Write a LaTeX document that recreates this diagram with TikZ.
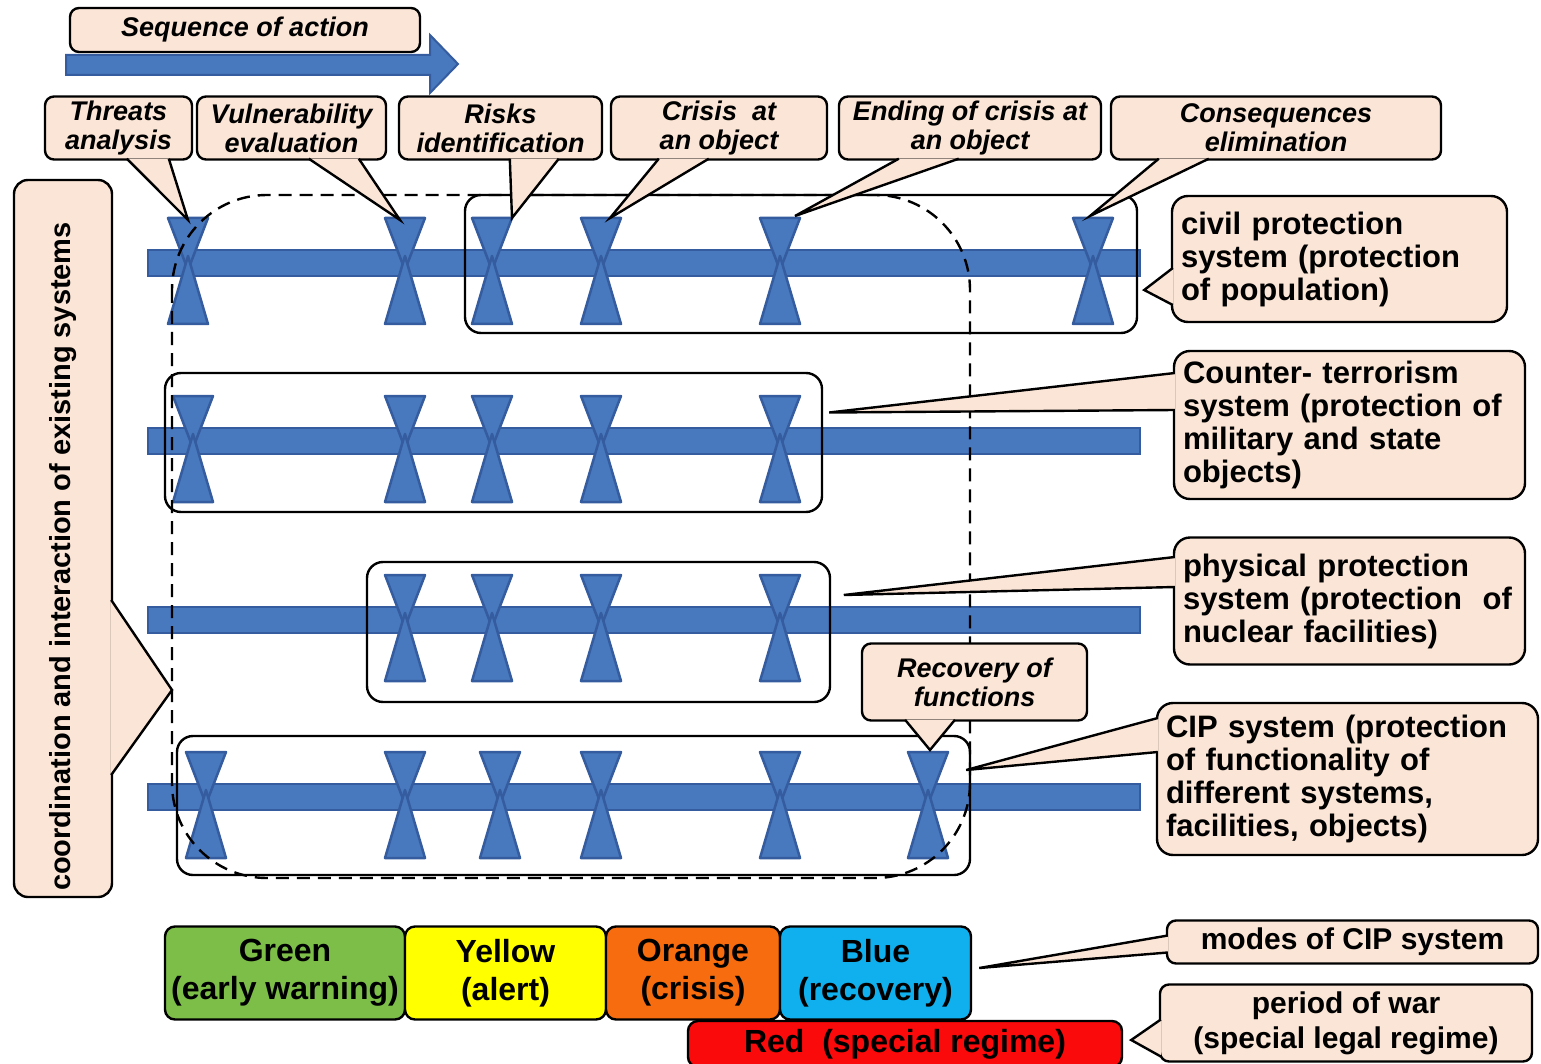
\documentclass[tikz,border=0pt]{standalone}
\usepackage{fontspec}
\setmainfont{Liberation Sans}
\usetikzlibrary{positioning,calc}

\definecolor{peach}{RGB}{251,229,214}
\definecolor{barblue}{RGB}{72,120,190}
\definecolor{baredge}{RGB}{52,92,158}
\definecolor{modegreen}{RGB}{124,190,72}
\definecolor{modeyellow}{RGB}{255,255,0}
\definecolor{modeorange}{RGB}{246,108,14}
\definecolor{modeblue}{RGB}{16,176,238}
\definecolor{modered}{RGB}{250,10,10}

\tikzset{
  glassfill/.style={fill=barblue, draw=baredge, line width=2.5pt, line join=round},
  glass/.pic={
    \filldraw[glassfill] (-20,-45) -- (20,-45) -- (0,7) -- cycle;
    \filldraw[glassfill] (-20,61) -- (20,61) -- (0,-7) -- cycle;
  }
}

\begin{document}
\begin{tikzpicture}[x=1pt,y=-1pt,
    actbox/.style={draw, line width=2.4pt, rounded corners=9pt, fill=peach, inner sep=0pt,
      align=center, font=\fontsize{27}{29}\selectfont\bfseries\itshape},
    sysbox/.style={draw, line width=2.4pt, rounded corners=16pt, fill=peach, inner ysep=0pt,
      inner xsep=9pt, align=left, font=\fontsize{31}{33}\selectfont\bfseries},
    grp/.style={draw, line width=2.4pt, rounded corners=16pt, inner sep=0pt},
    zone/.style={draw, line width=2.4pt, dash pattern=on 13pt off 8pt, rounded corners=95pt},
    ptr/.style={fill=peach, draw, line width=2.4pt, line join=miter},
    bar/.style={fill=barblue, draw=baredge, line width=2pt},
    mode/.style={draw, line width=2.4pt, rounded corners=10pt, inner sep=0pt, align=center,
      font=\fontsize{32}{38}\selectfont\bfseries},
    note/.style={draw, line width=2.4pt, rounded corners=9pt, fill=peach, inner sep=0pt,
      align=center, font=\fontsize{30}{35}\selectfont\bfseries}]

  \useasboundingbox (0,0) rectangle (1541,1064);

  % sequence arrow
  \filldraw[bar] (66,55) -- (430,55) -- (430,35) -- (458,64) -- (430,93) -- (430,75) -- (66,75) -- cycle;
  \node[actbox, minimum width=350, minimum height=44] (seq) at (245,30) {Sequence of action};

  % time lines
  \foreach \y in {263,441,620,797}
    \filldraw[bar] (148,\y-13) rectangle (1140,\y+13);

  \foreach \x in {188,405,492,601,780,1093}
    \pic at (\x,263) {glass};
  \foreach \x in {193,405,492,601,780}
    \pic at (\x,441) {glass};
  \foreach \x in {405,492,601,780}
    \pic at (\x,620) {glass};
  \foreach \x in {206,405,500,601,780,928}
    \pic at (\x,797) {glass};

  % systems
  \node[grp, minimum width=672, minimum height=138] (civgrp) at (801,264) {};
  \node[grp, minimum width=657, minimum height=139] (ctrgrp) at (493.5,442.5) {};
  \node[grp, minimum width=463, minimum height=140] (phygrp) at (598.5,632) {};
  \node[grp, minimum width=793, minimum height=139] (cipgrp) at (573.5,805.5) {};
  \draw[zone] (172,195) rectangle (970,878);

  % steps
  \node[actbox, minimum width=147, minimum height=63] (thr) at (118.5,128) {Threats\\analysis};
  \node[actbox, minimum width=189, minimum height=63] (vul) at (291.5,128) {Vulnerability\\evaluation};
  \node[actbox, minimum width=203, minimum height=63] (risk) at (500.5,128) {Risks\\identification};
  \node[actbox, minimum width=216, minimum height=63] (cris) at (719,128) {Crisis~ at\\an object};
  \node[actbox, minimum width=262, minimum height=63] (endc) at (970,128) {Ending of crisis at\\an object};
  \node[actbox, minimum width=330, minimum height=63] (cons) at (1276,128) {Consequences\\elimination};
  \node[actbox, minimum width=225, minimum height=77] (rec) at (974.5,682) {Recovery of\\functions};

  \path[ptr] ($(thr.south west)+(83,-2)$) -- (188,220) -- ($(thr.south west)+(125,-2)$);
  \path[ptr] ($(vul.south west)+(113,-2)$) -- (400,220) -- ($(vul.south west)+(163,-2)$);
  \path[ptr] ($(risk.south west)+(112,-2)$) -- (512,218) -- ($(risk.south west)+(161,-2)$);
  \path[ptr] ($(cris.south west)+(49,-2)$) -- (610,218) -- ($(cris.south west)+(99,-2)$);
  \path[ptr] ($(endc.south west)+(61,-2)$) -- (795,216) -- ($(endc.south west)+(121,-2)$);
  \path[ptr] ($(cons.south west)+(49,-2)$) -- (1090,216) -- ($(cons.south west)+(99,-2)$);
  \path[ptr] ($(rec.south)+(-69.5,-2)$) -- (930,750) -- ($(rec.south)+(-19.5,-2)$);

  % system labels
  \node[sysbox, text width=317, minimum height=126] (civ) at (1339.5,259)
    {civil protection\\system (protection\\of population)};
  \node[sysbox, text width=333, minimum height=148] (ctr) at (1349.5,425)
    {Counter- terrorism\\system (protection of\\military and state\\objects)};
  \node[sysbox, text width=333, minimum height=127] (phy) at (1349.5,601)
    {physical protection\\system (protection~ of\\nuclear facilities)};
  \node[sysbox, text width=363, minimum height=152] (cip) at (1347.5,779)
    {CIP system (protection\\of functionality of\\different systems,\\facilities, objects)};

  \path[ptr] ($(civ.west)+(2,9)$) -- ($(civgrp.east)+(6,26)$) -- ($(civ.west)+(2,46)$);
  \path[ptr] ($(ctr.west)+(2,-52)$) -- ($(ctrgrp.east)+(6,-30)$) -- ($(ctr.west)+(2,-15)$);
  \path[ptr] ($(phy.west)+(2,-44)$) -- ($(phy.west)+(-329,-6)$) -- ($(phy.west)+(2,-14)$);
  \path[ptr] ($(cip.west)+(2,-61)$) -- ($(cipgrp.east)+(-5,-35.5)$) -- ($(cip.west)+(2,-27)$);

  % coordination
  \node[actbox, rotate=90, rounded corners=14pt, minimum width=717, minimum height=98,
    font=\fontsize{29}{32}\selectfont\bfseries] (coord) at (63,538.5)
    {\hspace*{-36pt}coordination and interaction of existing systems};
  \path[ptr] ($(coord.south)+(-2,61.5)$) -- (172,690) -- ($(coord.south)+(-2,236.5)$);

  % modes
  \node[mode, fill=modegreen, minimum width=240, minimum height=93] (grn) at (285,973) {Green\\(early warning)};
  \node[mode, fill=modeyellow, minimum width=201, minimum height=93] (yel) at (505.5,973) {Yellow\\(alert)};
  \node[mode, fill=modeorange, minimum width=174, minimum height=93] (org) at (693,973) {Orange\\(crisis)};
  \node[mode, fill=modeblue, minimum width=191, minimum height=93] (blu) at (875.5,973) {Blue\\(recovery)};
  \node[mode, fill=modered, minimum width=434, minimum height=46] (red) at (905,1044) {Red~ (special regime)};

  \node[note, minimum width=371, minimum height=43] (mod) at (1352.5,942) {modes of CIP system};
  \node[note, minimum width=372, minimum height=77] (war) at (1346,1023) {period of war\\(special legal regime)};
  \path[ptr] ($(mod.west)+(2,-6.5)$) -- ($(blu.east)+(7,-5)$) -- ($(mod.west)+(2,10.5)$);
  \path[ptr] ($(war.west)+(2,-3.5)$) -- ($(red.east)+(8,-4)$) -- ($(war.west)+(2,33.5)$);

\end{tikzpicture}
\end{document}
